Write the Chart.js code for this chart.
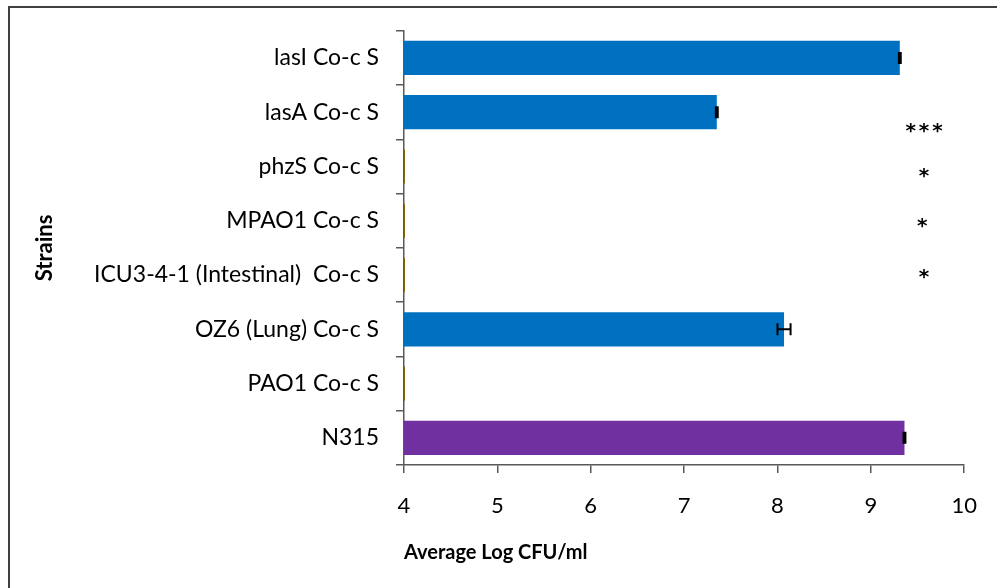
<!DOCTYPE html>
<html>
<head>
<meta charset="utf-8">
<script src="https://cdn.jsdelivr.net/npm/chart.js@4"></script>
<style>
  html, body { margin: 0; padding: 0; background: #fff; }
  #wrap { width: 997px; height: 588px; position: relative; }
</style>
</head>
<body>
<div id="wrap"><canvas id="chart" width="997" height="588"></canvas></div>
<script>
// Data
const strains = [
    'lasI Co-c S',
    'lasA Co-c S',
    'phzS Co-c S',
    'MPAO1 Co-c S',
    'ICU3-4-1 (Intestinal)  Co-c S',
    'OZ6 (Lung) Co-c S',
    'PAO1 Co-c S',
    'N315'
];
const logCfu = [9.31, 7.35, 4.01, 4.01, 4.01, 8.07, 4.01, 9.36];
const errors = [0.01, 0.01, 0, 0, 0, 0.07, 0, 0.01];
const barColors = ['#0070c0', '#0070c0', '#7f6000', '#7f6000', '#7f6000', '#0070c0', '#7f6000', '#7030a0'];

// Significance marks (text, x value, category position)
const starText = ['***', '*', '*', '*'];
const starX = [9.57, 9.57, 9.55, 9.57];
const starY = [1.28, 2.12, 3.03, 3.97];

const FONT = 'Lato, "Open Sans", sans-serif';
const AXIS = '#595959';

// Error bars with caps
const errorBars = {
    id: 'errorBars',
    afterDatasetsDraw(chart) {
        const ctx = chart.ctx;
        const x = chart.scales.x;
        const meta = chart.getDatasetMeta(0);
        ctx.save();
        ctx.strokeStyle = '#000';
        ctx.lineWidth = 2;
        meta.data.forEach((bar, i) => {
            if (!errors[i]) return;
            const lo = x.getPixelForValue(logCfu[i] - errors[i]);
            const hi = x.getPixelForValue(logCfu[i] + errors[i]);
            const y = bar.y;
            ctx.beginPath();
            ctx.moveTo(lo, y); ctx.lineTo(hi, y);
            ctx.moveTo(lo, y - 6); ctx.lineTo(lo, y + 6);
            ctx.moveTo(hi, y - 6); ctx.lineTo(hi, y + 6);
            ctx.stroke();
        });
        ctx.restore();
    }
};

// Asterisks and the outer frame
const extras = {
    id: 'extras',
    afterDraw(chart) {
        const ctx = chart.ctx;
        const xs = chart.scales.x, ys = chart.scales.y;
        ctx.save();
        ctx.fillStyle = '#000';
        ctx.font = 'bold 20px "DejaVu Sans", sans-serif';
        ctx.letterSpacing = '3px';
        ctx.textAlign = 'center';
        ctx.textBaseline = 'middle';
        starText.forEach((t, i) => {
            ctx.fillText(t, xs.getPixelForValue(starX[i]) + 1.5, ys.getPixelForValue(starY[i]) + 4);
        });
        ctx.strokeStyle = '#404040';
        ctx.lineWidth = 2;
        ctx.beginPath();
        ctx.moveTo(9, 588); ctx.lineTo(9, 7); ctx.lineTo(997, 7);
        ctx.stroke();
        ctx.restore();
    }
};

new Chart(document.getElementById('chart'), {
    type: 'bar',
    data: {
        labels: strains,
        datasets: [{
            data: logCfu,
            backgroundColor: barColors,
            borderWidth: 0,
            categoryPercentage: 1,
            barPercentage: 0.63
        }]
    },
    options: {
        indexAxis: 'y',
        responsive: false,
        animation: false,
        events: [],
        layout: { padding: { left: 30, right: 32, top: 23, bottom: 0 } },
        plugins: { legend: { display: false }, tooltip: { enabled: false } },
        scales: {
            x: {
                min: 4,
                max: 10,
                ticks: {
                    stepSize: 1,
                    color: '#000',
                    font: { family: FONT, size: 22 },
                    padding: 20
                },
                grid: { drawOnChartArea: false, tickLength: 8, color: AXIS, lineWidth: 1.5 },
                border: { color: AXIS, width: 1.5 },
                title: {
                    display: true,
                    text: 'Average Log CFU/ml',
                    align: 'start',
                    color: '#000',
                    font: { family: FONT, size: 20, weight: 'bold' },
                    padding: { top: 0, bottom: 23 }
                },
                afterFit(scale) { scale.height = 123; }
            },
            y: {
                ticks: {
                    color: '#000',
                    font: { family: FONT, size: 23 },
                    padding: 17
                },
                grid: { drawOnChartArea: false, tickLength: 8, offset: true, color: AXIS, lineWidth: 1.5 },
                border: { color: AXIS, width: 1.5 },
                title: {
                    display: true,
                    text: 'Strains',
                    color: '#000',
                    font: { family: FONT, size: 22, weight: 'bold' },
                    padding: { top: 2, bottom: 0 }
                },
                afterFit(scale) { scale.width = 374; }
            }
        }
    },
    plugins: [errorBars, extras]
});
</script>
</body>
</html>
